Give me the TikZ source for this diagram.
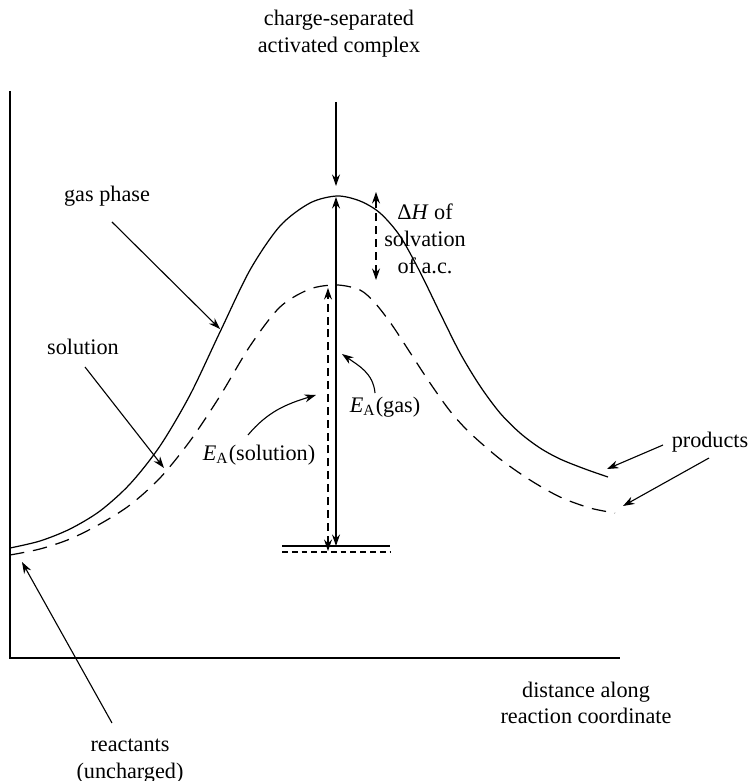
\documentclass[tikz,border=0pt]{standalone}
\usepackage{fontspec}
\setmainfont{Liberation Serif}
\usetikzlibrary{arrows.meta,calc}
\tikzset{
  curve/.style={line width=0.55pt},
  dashcurve/.style={line width=0.55pt, dash pattern=on 6.5pt off 4pt},
  arrow/.style={-{Stealth[length=5.2pt,width=3.6pt]}, line width=0.5pt},
  twoway/.style={{Stealth[length=5.2pt,width=3.6pt]}-{Stealth[length=5.2pt,width=3.6pt]}, line width=0.5pt},
  shortdash/.style={dash pattern=on 3.6pt off 2.2pt},
  tag/.style={align=center, inner sep=1pt, font=\normalsize}
}

\begin{document}
\begin{tikzpicture}[x=0.45pt,y=-0.45pt]
        \useasboundingbox (0,0) rectangle (748,781);

        % axes
        \coordinate (ytop) at (10,91);
        \coordinate (origin) at (10,658);
        \coordinate (xend) at (620,658);
        \draw[line width=0.65pt] (ytop) -- (origin) -- (xend);

        % gas phase and solution profiles
        \draw[curve] plot[smooth] coordinates {(10,548) (40,541) (70,529) (100,511) (130,484)
          (160,446) (190,395) (220,332) (250,270) (280,226) (310,203) (337,196) (360,201)
          (380,213) (400,236) (420,272) (440,313) (460,353) (480,386) (500,413) (520,433)
          (540,448) (560,459) (585,469) (608,477)};
        \draw[dashcurve] plot[smooth] coordinates {(10,555) (40,549) (70,539) (100,524) (130,505)
          (160,478) (190,441) (220,396) (250,346) (280,307) (310,289) (337,285) (360,290)
          (375,303) (392,325) (411,354) (430,383) (450,411) (470,433) (500,459) (530,480)
          (560,497) (590,508) (615,513)};

        % reactant levels
        \coordinate (gl) at (282,546);
        \coordinate (gr) at (390,546);
        \coordinate (sl) at (282,552);
        \coordinate (sr) at (390,552);
        \draw[line width=0.5pt] (gl) -- (gr);
        \draw[line width=0.5pt,dash pattern=on 2.6pt off 1.8pt] (sl) -- (sr);

        % activation energies
        \coordinate (gtop) at (336,197);
        \coordinate (gbot) at (336,546);
        \coordinate (stop) at (328,288);
        \coordinate (sbot) at (328,551);
        \draw[twoway] (gbot) -- (gtop);
        \draw[twoway,shortdash] (sbot) -- (stop);

        % activated complex
        \node[tag] (ac) at (339,34) {charge-separated\\activated complex};
        \coordinate (acTail) at (336,102);
        \coordinate (acTip) at (336,186);
        \draw[arrow] (acTail) -- (acTip);

        % solvation enthalpy
        \coordinate (dhTop) at (376,192);
        \coordinate (dhBot) at (376,280);
        \draw[twoway,shortdash] (dhBot) -- (dhTop);
        \node[tag] (dh) at (425,239) {Δ\textit{H} of\\solvation\\of a.c.};

        % labels with pointers
        \node[tag] (eag) at (385,407) {\textit{E}\textsubscript{A}(gas)};
        \coordinate (eagTail) at (375,393);
        \coordinate (eagTip) at (342,354);
        \draw[arrow] (eagTail) to[out=95,in=-35] (eagTip);

        \node[tag] (eas) at (259,455) {\textit{E}\textsubscript{A}(solution)};
        \coordinate (easTail) at (248,435);
        \coordinate (easTip) at (316,395);
        \draw[arrow] (easTail) to[out=50,in=197] (easTip);

        \node[tag] (gasLbl) at (107,196) {gas phase};
        \coordinate (gasTail) at (112,222);
        \coordinate (gasTip) at (220,329);
        \draw[arrow] (gasTail) -- (gasTip);

        \node[tag] (solLbl) at (83,347) {solution};
        \coordinate (solTail) at (85,367);
        \coordinate (solTip) at (164,468);
        \draw[arrow] (solTail) -- (solTip);

        \node[tag] (prod) at (710,442) {products};
        \coordinate (prodTail1) at (663,445);
        \coordinate (prodTip1) at (607,469);
        \coordinate (prodTail2) at (709,458);
        \coordinate (prodTip2) at (623,506);
        \draw[arrow] (prodTail1) -- (prodTip1);
        \draw[arrow] (prodTail2) -- (prodTip2);

        \node[tag] (react) at (130,761) {reactants\\(uncharged)};
        \coordinate (reactTail) at (112,723);
        \coordinate (reactTip) at (22,562);
        \draw[arrow] (reactTail) -- (reactTip);

        \node[tag] (xlab) at (586,703) {distance along\\reaction coordinate};
      \end{tikzpicture}
\end{document}
